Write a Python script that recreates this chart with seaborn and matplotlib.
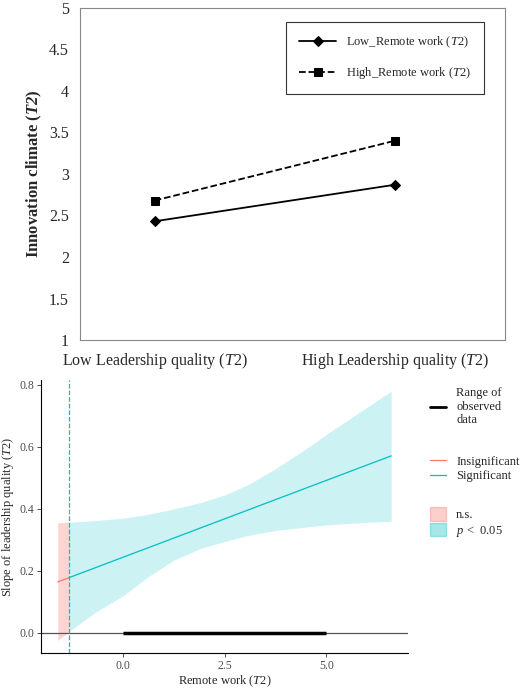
import matplotlib
matplotlib.use("Agg")
import matplotlib.pyplot as plt
import seaborn as sns
import pandas as pd
import numpy as np
from matplotlib.lines import Line2D
from matplotlib.patches import Patch

sns.set_theme(style="white")
plt.rcParams['font.family'] = ['Liberation Serif', 'DejaVu Serif']
plt.rcParams['mathtext.fontset'] = 'custom'
plt.rcParams['mathtext.it'] = 'Liberation Serif:italic'
plt.rcParams['mathtext.rm'] = 'Liberation Serif'
plt.rcParams['mathtext.bf'] = 'Liberation Serif:bold:italic'

# Top panel data
categories = ["Low Leadership quality ($\\mathit{T2}$)", "High Leadership quality ($\\mathit{T2}$)"]
low_remote = [2.43, 2.87]
high_remote = [2.68, 3.40]

# Bottom panel data (Johnson-Neyman)
jn_x_ends = [-1.62, 6.6]
jn_slope_ends = [0.164, 0.571]
jn_cut = -1.33
ci_x = [-1.62, -1.33, -0.7, 0.0, 0.6, 1.25, 1.9, 2.5, 3.1, 3.75, 4.4, 5.0, 5.8, 6.6]
ci_upper = [0.355, 0.357, 0.362, 0.370, 0.382, 0.400, 0.420, 0.445, 0.480, 0.530, 0.585, 0.640, 0.71, 0.78]
ci_lower = [-0.025, 0.005, 0.065, 0.120, 0.180, 0.235, 0.272, 0.295, 0.315, 0.330, 0.340, 0.348, 0.355, 0.36]
observed_range = [0.0, 5.0]
pink = "#F8766D"
teal = "#00BFC4"

fig = plt.figure(figsize=(5.2, 6.89), dpi=100)

# ---- Top panel ----
ax1 = fig.add_axes([0.154, 0.5065, 0.817, 0.482])
dfl = pd.DataFrame({"x": [0, 1], "y": low_remote})
dfh = pd.DataFrame({"x": [0, 1], "y": high_remote})
sns.lineplot(data=dfl, x="x", y="y", ax=ax1, color="black", marker="D", markersize=5,
             lw=1.3, markeredgecolor="black", label="Low_Remote work ($\\mathit{T2}$)")
sns.lineplot(data=dfh, x="x", y="y", ax=ax1, color="black", marker="s", markersize=6,
             lw=1.3, linestyle="--", markeredgecolor="black", label="High_Remote work ($\\mathit{T2}$)")
ax1.set_xlim(-0.311, 1.459)
ax1.set_ylim(1, 5)
ax1.set_xticks([0, 1])
ax1.set_xticklabels(categories, fontsize=11.5)
ax1.set_yticks([1, 1.5, 2, 2.5, 3, 3.5, 4, 4.5, 5])
ax1.set_yticklabels(["1", "1.5", "2", "2.5", "3", "3.5", "4", "4.5", "5"], fontsize=11.5)
ax1.set_xlabel("")
ax1.set_ylabel("Innovation climate ($\\mathbf{T2}$)", fontsize=12, fontweight="bold")
for s in ax1.spines.values():
    s.set_color("#888888"); s.set_linewidth(0.8)
ax1.tick_params(length=0, pad=8)
leg = ax1.legend(loc="upper right", bbox_to_anchor=(0.965, 0.975), fontsize=9,
                 fancybox=False, edgecolor="black", borderpad=1.0, labelspacing=1.2, handlelength=3)
leg.get_frame().set_linewidth(0.8)

# ---- Bottom panel ----
ax2 = fig.add_axes([0.079, 0.052, 0.706, 0.396])
ci_x_a = np.array(ci_x); up = np.array(ci_upper); lo = np.array(ci_lower)
ns_mask = ci_x_a <= jn_cut
ax2.fill_between(ci_x_a[ns_mask], lo[ns_mask], up[ns_mask], color=pink, alpha=0.3, lw=0)
sig_mask = ci_x_a >= jn_cut
ax2.fill_between(ci_x_a[sig_mask], lo[sig_mask], up[sig_mask], color=teal, alpha=0.2, lw=0)
slope_at_cut = jn_slope_ends[0] + (jn_slope_ends[1] - jn_slope_ends[0]) * (jn_cut - jn_x_ends[0]) / (jn_x_ends[1] - jn_x_ends[0])
d_ns = pd.DataFrame({"x": [jn_x_ends[0], jn_cut], "y": [jn_slope_ends[0], slope_at_cut]})
d_sig = pd.DataFrame({"x": [jn_cut, jn_x_ends[1]], "y": [slope_at_cut, jn_slope_ends[1]]})
sns.lineplot(data=d_ns, x="x", y="y", ax=ax2, color=pink, lw=0.9)
sns.lineplot(data=d_sig, x="x", y="y", ax=ax2, color=teal, lw=0.9)
ax2.axhline(0, color="#555555", lw=0.9)
ax2.plot(observed_range, [0, 0], color="black", lw=2.5, solid_capstyle="butt")
ax2.axvline(jn_cut, color=teal, lw=0.9, linestyle="--")
ax2.set_xlim(-2.03, 7.02)
ax2.set_ylim(-0.066, 0.815)
ax2.set_xticks([0, 2.5, 5.0]); ax2.set_xticklabels(["0.0", "2.5", "5.0"])
ax2.set_yticks([0, 0.2, 0.4, 0.6, 0.8]); ax2.set_yticklabels(["0.0", "0.2", "0.4", "0.6", "0.8"])
ax2.tick_params(axis="both", labelsize=8.5, labelcolor="#4d4d4d", length=3, width=0.6, color="#333333",
                bottom=True, left=True, pad=2)
ax2.set_xlabel("Remote work ($\\mathit{T2}$)", fontsize=9, labelpad=1)
ax2.set_ylabel("Slope of leadership quality ($\\mathit{T2}$)", fontsize=9, labelpad=2)
for k in ["top", "right"]:
    ax2.spines[k].set_visible(False)
for k in ["left", "bottom"]:
    ax2.spines[k].set_color("black"); ax2.spines[k].set_linewidth(0.8)

l1 = fig.legend(handles=[Line2D([], [], color="black", lw=2)], labels=["Range of\nobserved\ndata"],
                loc="upper left", bbox_to_anchor=(0.805, 0.455), frameon=False, fontsize=9, handlelength=1.3)
l2 = fig.legend(handles=[Line2D([], [], color=pink, lw=0.9), Line2D([], [], color=teal, lw=0.9)],
                labels=["Insignificant", "Significant"], loc="upper left", bbox_to_anchor=(0.805, 0.355),
                frameon=False, fontsize=9, handlelength=1.3, labelspacing=0.2)
l3 = fig.legend(handles=[Patch(color=pink, alpha=0.35), Patch(color=teal, alpha=0.35)],
                labels=["n.s.", "$\\mathit{p}$ <  0.05"], loc="upper left", bbox_to_anchor=(0.805, 0.28),
                frameon=False, fontsize=9, handlelength=1.3, handleheight=1.3, labelspacing=0.1)

fig.savefig("out.png", dpi=100)
